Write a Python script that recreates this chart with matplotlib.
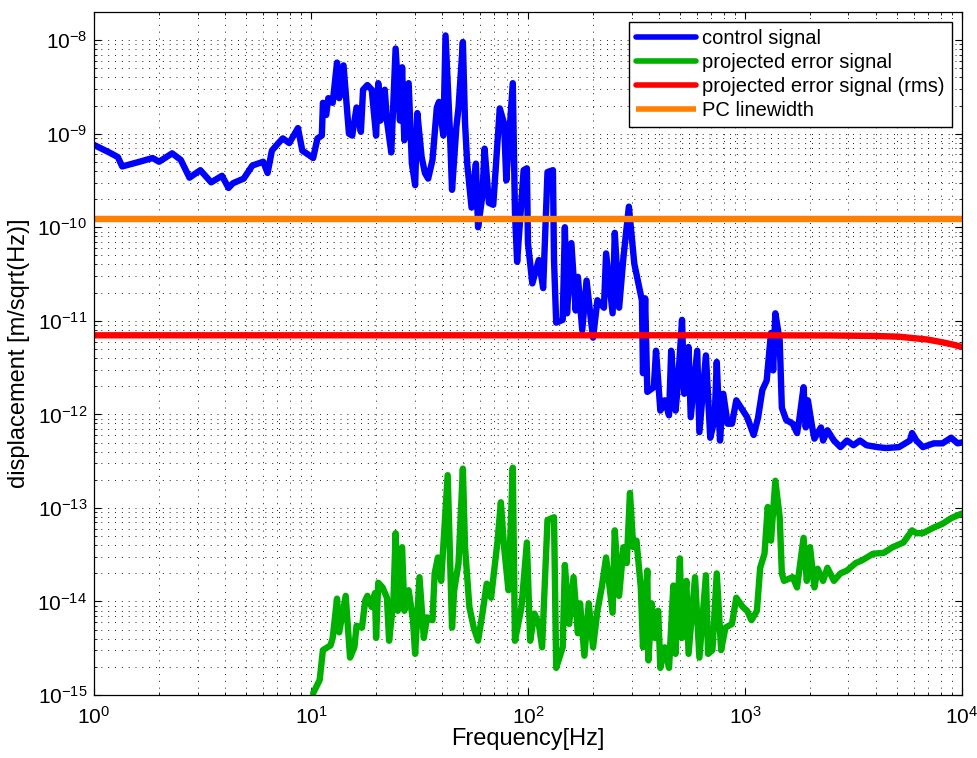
import numpy as np
import matplotlib
matplotlib.use("Agg")
import matplotlib.pyplot as plt
from matplotlib.ticker import NullFormatter

plt.rcParams['font.family'] = ['Liberation Sans', 'DejaVu Sans']
plt.rcParams['mathtext.fontset'] = 'custom'
plt.rcParams['mathtext.rm'] = 'Liberation Sans'
plt.rcParams['mathtext.it'] = 'Liberation Sans'

# values, stored as log10(frequency [Hz]) and log10(displacement)
control_logf = [0.00, 0.07, 0.11, 0.13, 0.21, 0.27, 0.30, 0.36, 0.40, 0.44,
                0.49, 0.54, 0.59, 0.62, 0.64, 0.69, 0.73, 0.78, 0.80, 0.82,
                0.85, 0.87, 0.90, 0.94, 0.96, 1.01, 1.03, 1.05, 1.055, 1.07,
                1.08, 1.10, 1.12, 1.13, 1.15, 1.175, 1.19, 1.21, 1.23, 1.24,
                1.26, 1.28, 1.30, 1.31, 1.32, 1.34, 1.35, 1.37, 1.39, 1.41,
                1.42, 1.43, 1.45, 1.465, 1.48, 1.49, 1.51, 1.525, 1.54, 1.56,
                1.58, 1.59, 1.61, 1.62, 1.64, 1.65, 1.67, 1.68, 1.70, 1.71,
                1.72, 1.74, 1.76, 1.77, 1.79, 1.80, 1.82, 1.84, 1.87, 1.89,
                1.90, 1.93, 1.94, 1.95, 1.98, 1.995, 2.00, 2.02, 2.05, 2.07,
                2.09, 2.115, 2.12, 2.13, 2.16, 2.17, 2.18, 2.20, 2.22, 2.23,
                2.25, 2.27, 2.29, 2.30, 2.32, 2.35, 2.36, 2.39, 2.40, 2.42,
                2.44, 2.465, 2.49, 2.525, 2.53, 2.54, 2.55, 2.58, 2.59, 2.61,
                2.63, 2.65, 2.66, 2.68, 2.69, 2.71, 2.72, 2.74, 2.75, 2.78,
                2.79, 2.82, 2.84, 2.86, 2.87, 2.885, 2.90, 2.92, 2.94, 2.96,
                3.01, 3.04, 3.06, 3.08, 3.10, 3.12, 3.13, 3.14, 3.16, 3.17,
                3.19, 3.22, 3.24, 3.25, 3.27, 3.28, 3.29, 3.31, 3.32, 3.35,
                3.36, 3.38, 3.41, 3.44, 3.47, 3.50, 3.53, 3.56, 3.61, 3.65,
                3.71, 3.76, 3.77, 3.79, 3.82, 3.87, 3.91, 3.95, 3.98, 4.00]
control_logv = [-9.12, -9.20, -9.25, -9.35, -9.30, -9.26, -9.30, -9.21, -9.28, -9.47,
                -9.39, -9.52, -9.45, -9.58, -9.53, -9.48, -9.34, -9.30, -9.42, -9.18,
                -9.10, -9.05, -9.10, -8.94, -9.18, -9.26, -9.05, -9.02, -8.67, -8.80,
                -8.62, -8.67, -8.24, -8.62, -8.27, -9.00, -9.02, -8.72, -8.98, -8.53,
                -8.48, -8.53, -9.02, -8.46, -8.86, -8.53, -8.86, -9.20, -8.09, -8.86,
                -8.29, -9.07, -8.46, -9.32, -9.55, -8.78, -9.25, -9.42, -9.48, -9.28,
                -8.72, -8.66, -9.02, -7.95, -8.96, -9.60, -8.93, -8.72, -8.02, -8.89,
                -9.32, -9.79, -9.32, -10.00, -9.66, -9.16, -9.74, -9.76, -8.73, -8.89,
                -9.50, -8.46, -9.84, -10.37, -9.39, -9.37, -10.17, -10.60, -10.35, -10.65,
                -9.41, -9.39, -10.35, -11.02, -10.99, -10.00, -10.92, -10.17, -10.89, -10.53,
                -11.10, -10.57, -10.99, -11.18, -10.78, -10.86, -10.28, -10.92, -10.06, -10.86,
                -10.32, -9.78, -10.39, -10.78, -11.56, -10.76, -11.76, -11.71, -11.32, -11.96,
                -11.85, -12.01, -11.32, -11.96, -11.71, -10.99, -11.78, -11.28, -12.03, -11.32,
                -12.19, -11.37, -12.25, -12.06, -11.44, -12.28, -11.78, -12.10, -12.10, -11.85,
                -12.03, -12.22, -12.04, -11.74, -11.64, -11.13, -11.53, -10.92, -11.21, -11.93,
                -12.06, -12.10, -12.20, -12.06, -11.71, -12.14, -11.85, -12.14, -12.26, -12.14,
                -12.28, -12.17, -12.28, -12.35, -12.28, -12.33, -12.28, -12.33, -12.35, -12.36,
                -12.35, -12.28, -12.20, -12.28, -12.35, -12.31, -12.31, -12.25, -12.31, -12.30]

error_logf = [1.01, 1.04, 1.055, 1.09, 1.10, 1.12, 1.13, 1.16, 1.18, 1.20,
              1.21, 1.235, 1.25, 1.26, 1.28, 1.295, 1.30, 1.31, 1.33, 1.35,
              1.36, 1.38, 1.39, 1.40, 1.42, 1.43, 1.45, 1.47, 1.48, 1.50,
              1.52, 1.535, 1.56, 1.57, 1.585, 1.60, 1.63, 1.65, 1.66, 1.68,
              1.70, 1.71, 1.73, 1.75, 1.77, 1.79, 1.81, 1.83, 1.86, 1.875,
              1.89, 1.91, 1.93, 1.94, 1.97, 1.995, 2.01, 2.03, 2.05, 2.065,
              2.09, 2.12, 2.13, 2.16, 2.17, 2.19, 2.21, 2.23, 2.24, 2.26,
              2.28, 2.30, 2.32, 2.34, 2.36, 2.39, 2.40, 2.42, 2.44, 2.455,
              2.47, 2.485, 2.50, 2.52, 2.53, 2.55, 2.555, 2.57, 2.585, 2.60,
              2.61, 2.63, 2.65, 2.67, 2.68, 2.70, 2.71, 2.73, 2.74, 2.77,
              2.79, 2.82, 2.83, 2.85, 2.87, 2.89, 2.91, 2.94, 2.96, 2.99,
              3.01, 3.03, 3.055, 3.07, 3.09, 3.105, 3.12, 3.14, 3.16, 3.17,
              3.18, 3.22, 3.24, 3.27, 3.285, 3.30, 3.32, 3.335, 3.36, 3.38,
              3.41, 3.44, 3.47, 3.51, 3.54, 3.59, 3.64, 3.68, 3.73, 3.77,
              3.79, 3.82, 3.87, 3.91, 3.95, 4.00]
error_logv = [-14.98, -14.84, -14.52, -14.47, -14.39, -13.97, -14.33, -13.94, -14.60, -14.49,
              -14.26, -14.28, -13.99, -13.94, -14.06, -13.91, -14.39, -13.80, -13.85, -13.96,
              -14.42, -13.99, -13.27, -14.10, -13.42, -14.10, -13.88, -14.20, -14.56, -13.74,
              -14.39, -14.17, -14.20, -13.70, -13.53, -13.78, -12.65, -14.28, -13.88, -13.59,
              -12.58, -13.42, -14.06, -14.28, -14.42, -14.13, -13.81, -13.96, -13.35, -12.94,
              -13.42, -13.88, -12.57, -14.42, -14.06, -13.37, -14.42, -14.13, -14.24, -14.49,
              -13.13, -13.10, -14.71, -14.49, -13.61, -14.24, -13.74, -14.34, -14.02, -14.58,
              -14.02, -14.49, -14.10, -13.85, -13.53, -14.12, -13.24, -13.94, -13.42, -13.59,
              -12.84, -13.42, -13.35, -13.85, -14.49, -13.67, -14.63, -14.02, -14.39, -14.10,
              -14.71, -14.49, -14.71, -13.83, -14.56, -13.54, -14.39, -13.78, -14.56, -13.74,
              -14.60, -13.72, -14.56, -14.52, -13.70, -14.52, -14.28, -14.24, -13.96, -14.06,
              -14.10, -14.20, -14.10, -13.64, -13.49, -12.99, -13.35, -12.71, -13.10, -13.70,
              -13.78, -13.74, -13.85, -13.32, -13.78, -13.42, -13.85, -13.65, -13.78, -13.64,
              -13.78, -13.70, -13.67, -13.59, -13.56, -13.49, -13.48, -13.42, -13.37, -13.24,
              -13.27, -13.27, -13.21, -13.17, -13.11, -13.06]

rms_logf = [0.0, 3.0, 3.4, 3.6, 3.71, 3.84, 3.91, 3.96, 4.0]
rms_logv = [-11.155, -11.155, -11.157, -11.162, -11.17, -11.20, -11.23, -11.255, -11.28]

pc_linewidth = 1.22e-10

labels = ['control signal', 'projected error signal',
          'projected error signal (rms)', 'PC linewidth']
colors = ['#0000ff', '#00b000', '#ff0000', '#ff8000']

fig = plt.figure(figsize=(9.78, 7.58), dpi=100)
ax = fig.add_axes([0.0961, 0.0831, 0.8875, 0.9011])

lw = 4.6
style = dict(lw=lw, solid_joinstyle='round', solid_capstyle='round')
ax.loglog(10 ** np.array(control_logf), 10 ** np.array(control_logv),
          color=colors[0], label=labels[0], **style)
ax.loglog(10 ** np.array(error_logf), 10 ** np.array(error_logv),
          color=colors[1], label=labels[1], **style)
ax.loglog(10 ** np.array(rms_logf), 10 ** np.array(rms_logv),
          color=colors[2], label=labels[2], **style)
ax.loglog([1, 1e4], [pc_linewidth, pc_linewidth],
          color=colors[3], label=labels[3], lw=lw, solid_capstyle='butt')

ax.set_xlim(1, 1e4)
ax.set_ylim(1e-15, 2e-8)
ax.xaxis.set_minor_formatter(NullFormatter())
ax.yaxis.set_minor_formatter(NullFormatter())

ax.grid(True, which='both', color='k', linestyle=(0, (1.2, 7)), linewidth=0.6)
ax.tick_params(which='both', direction='in', top=True, right=True, labelsize=15)
ax.tick_params(axis='x', which='major', pad=8)
ax.tick_params(axis='y', which='major', pad=5)
ax.tick_params(which='major', length=5, width=0.8)
ax.tick_params(which='minor', length=2.5, width=0.6)
for s in ax.spines.values():
    s.set_linewidth(0.9)

ax.set_xlabel('Frequency[Hz]', fontsize=17, labelpad=0)
ax.set_ylabel('displacement [m/sqrt(Hz)]', fontsize=17, labelpad=5)

leg = ax.legend(loc='upper right', fontsize=14.5, fancybox=False, framealpha=1,
                edgecolor='k', handlelength=3.0, handletextpad=0.3,
                labelspacing=0.24, borderpad=0.35)
leg.get_frame().set_linewidth(1.0)
for h in leg.get_lines():
    h.set_linewidth(4)

fig.savefig('out.png', dpi=100)
